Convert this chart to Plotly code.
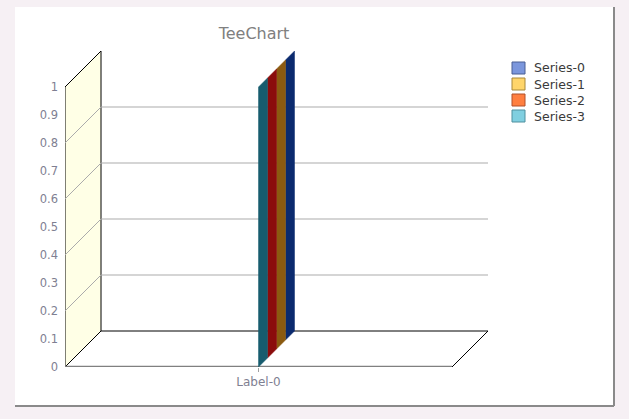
import plotly.graph_objects as go

# ---- data ----
categories = ["Label-0"]
series_names = ["Series-0", "Series-1", "Series-2", "Series-3"]
series_values = [[1], [1], [1], [1]]
legend_colors = ["#7b96dc", "#ffd56a", "#ff7f40", "#80cfe0"]
legend_borders = ["#4a5e94", "#a8883a", "#b0502a", "#4e8f9e"]
side_colors = ["#0b2a6e", "#8b5a10", "#8b0c0c", "#175c6e"]
y_ticks = [0, 0.1, 0.2, 0.3, 0.4, 0.5, 0.6, 0.7, 0.8, 0.9, 1]
y_tick_text = ["0", "0.1", "0.2", "0.3", "0.4", "0.5", "0.6", "0.7", "0.8", "0.9", "1"]
grid_vals = [0.2, 0.4, 0.6, 0.8]

# ---- geometry (3D depth offset expressed in axis units) ----
W, H = 629, 419
PL, PR, PT, PB = 65, 488, 51, 367          # plot area in px
X_UNIT = 387.0                               # px per category width
Y_UNIT = 280.0                               # px per value unit
DEPTH = 36.0                                 # px depth offset
DX = DEPTH / X_UNIT
DY = DEPTH / Y_UNIT
XMIN = -0.5
XMAX = XMIN + (PR - PL) / X_UNIT
YMAX = (PB - PT) / Y_UNIT
YTOP = max(max(v) for v in series_values)

tick_col = "#7f7f92"
font_fam = "DejaVu Sans, Verdana, sans-serif"

fig = go.Figure()

# floor
fig.add_trace(go.Scatter(
    x=[XMIN, XMIN + 1, XMIN + 1 + DX, XMIN + DX, XMIN],
    y=[0, 0, DY, DY, 0], mode="lines", fill="toself", fillcolor="white",
    line=dict(color="black", width=1), showlegend=False, hoverinfo="skip"))
# left wall
fig.add_trace(go.Scatter(
    x=[XMIN, XMIN, XMIN + DX, XMIN + DX, XMIN],
    y=[0, YTOP, YTOP + DY, DY, 0], mode="lines", fill="toself", fillcolor="#ffffe6",
    line=dict(color="black", width=1), showlegend=False, hoverinfo="skip"))
# grid lines (back wall + left wall diagonals)
gx, gy = [], []
for v in grid_vals:
    gx += [XMIN, XMIN + DX, XMIN + 1 + DX, None]
    gy += [v, v + DY, v + DY, None]
fig.add_trace(go.Scatter(x=gx, y=gy, mode="lines",
                         line=dict(color="#ababab", width=1),
                         showlegend=False, hoverinfo="skip"))
# front axis line
fig.add_trace(go.Scatter(x=[XMIN, XMIN + 1], y=[0, 0], mode="lines",
                         line=dict(color="#808080", width=2.5),
                         showlegend=False, hoverinfo="skip"))

# bars (series in depth, Series-3 in front)
n = len(series_names)
dx4, dy4 = DX / n, DY / n
for i in range(n):
    k = n - 1 - i
    for ci, cat in enumerate(categories):
        v = series_values[i][ci]
        x0 = ci + k * dx4
        x1 = ci + (k + 1) * dx4
        y0 = k * dy4
        y1 = (k + 1) * dy4
        fig.add_trace(go.Scatter(
            x=[x0, x1, x1, x0, x0], y=[y0, y1, v + y1, v + y0, y0],
            mode="lines", fill="toself", fillcolor=side_colors[i],
            line=dict(color=side_colors[i], width=0.5),
            name=series_names[i], showlegend=False, hoverinfo="skip"))


def px_x(p):
    return (p - PL) / (PR - PL)


def px_y(p):
    return (PB - p) / (PB - PT)


shapes = [
    dict(type="rect", xref="paper", yref="paper", layer="below",
         x0=px_x(15), x1=px_x(614), y0=px_y(406), y1=px_y(7),
         fillcolor="white", line=dict(width=0)),
    dict(type="line", xref="paper", yref="paper", layer="below",
         x0=px_x(614), x1=px_x(614), y0=px_y(406), y1=px_y(7),
         line=dict(color="#8a8a8a", width=2)),
    dict(type="line", xref="paper", yref="paper", layer="below",
         x0=px_x(15), x1=px_x(614), y0=px_y(406), y1=px_y(406),
         line=dict(color="#8a8a8a", width=2)),
]
annotations = []
# legend (box + text per series)
LEG_X, LEG_Y, LEG_STEP = 512, 68, 16
for i, name in enumerate(series_names):
    cy = LEG_Y + i * LEG_STEP
    shapes.append(dict(type="rect", xref="paper", yref="paper",
                       x0=px_x(LEG_X), x1=px_x(LEG_X + 13),
                       y0=px_y(cy + 6), y1=px_y(cy - 6),
                       fillcolor=legend_colors[i],
                       line=dict(color=legend_borders[i], width=1)))
    annotations.append(dict(text=name, xref="paper", yref="paper",
                            x=px_x(LEG_X + 20), y=px_y(cy), xanchor="left",
                            yanchor="middle", showarrow=False,
                            font=dict(family=font_fam, size=12.5, color="#3a3a3a")))

fig.update_layout(
    width=W, height=H, autosize=False,
    margin=dict(l=PL, r=W - PR, t=PT, b=H - PB, pad=0),
    paper_bgcolor="#f6f0f4", plot_bgcolor="rgba(0,0,0,0)",
    showlegend=False,
    title=dict(text="TeeChart", x=px_x(254), xref="paper", xanchor="center",
               y=1 - 33 / H, yref="container", yanchor="middle",
               font=dict(family=font_fam, size=16, color="#808080")),
    xaxis=dict(range=[XMIN, XMAX], tickvals=list(range(len(categories))),
               ticktext=categories, showgrid=False, zeroline=False, showline=False,
               ticks="outside", ticklen=4, tickcolor="#a0a0a0",
               tickfont=dict(family=font_fam, size=12, color=tick_col)),
    yaxis=dict(range=[0, YMAX], tickvals=y_ticks, ticktext=y_tick_text,
               showgrid=False, zeroline=False, showline=False, ticks="",
               ticklabelstandoff=6,
               tickfont=dict(family=font_fam, size=11.5, color=tick_col)),
    shapes=shapes,
    annotations=annotations,
)

fig.write_html(
    "out.html",
    config={"displayModeBar": False},
    post_script="document.body.style.margin='0';"
                "document.body.style.background='#f6f0f4';",
)
